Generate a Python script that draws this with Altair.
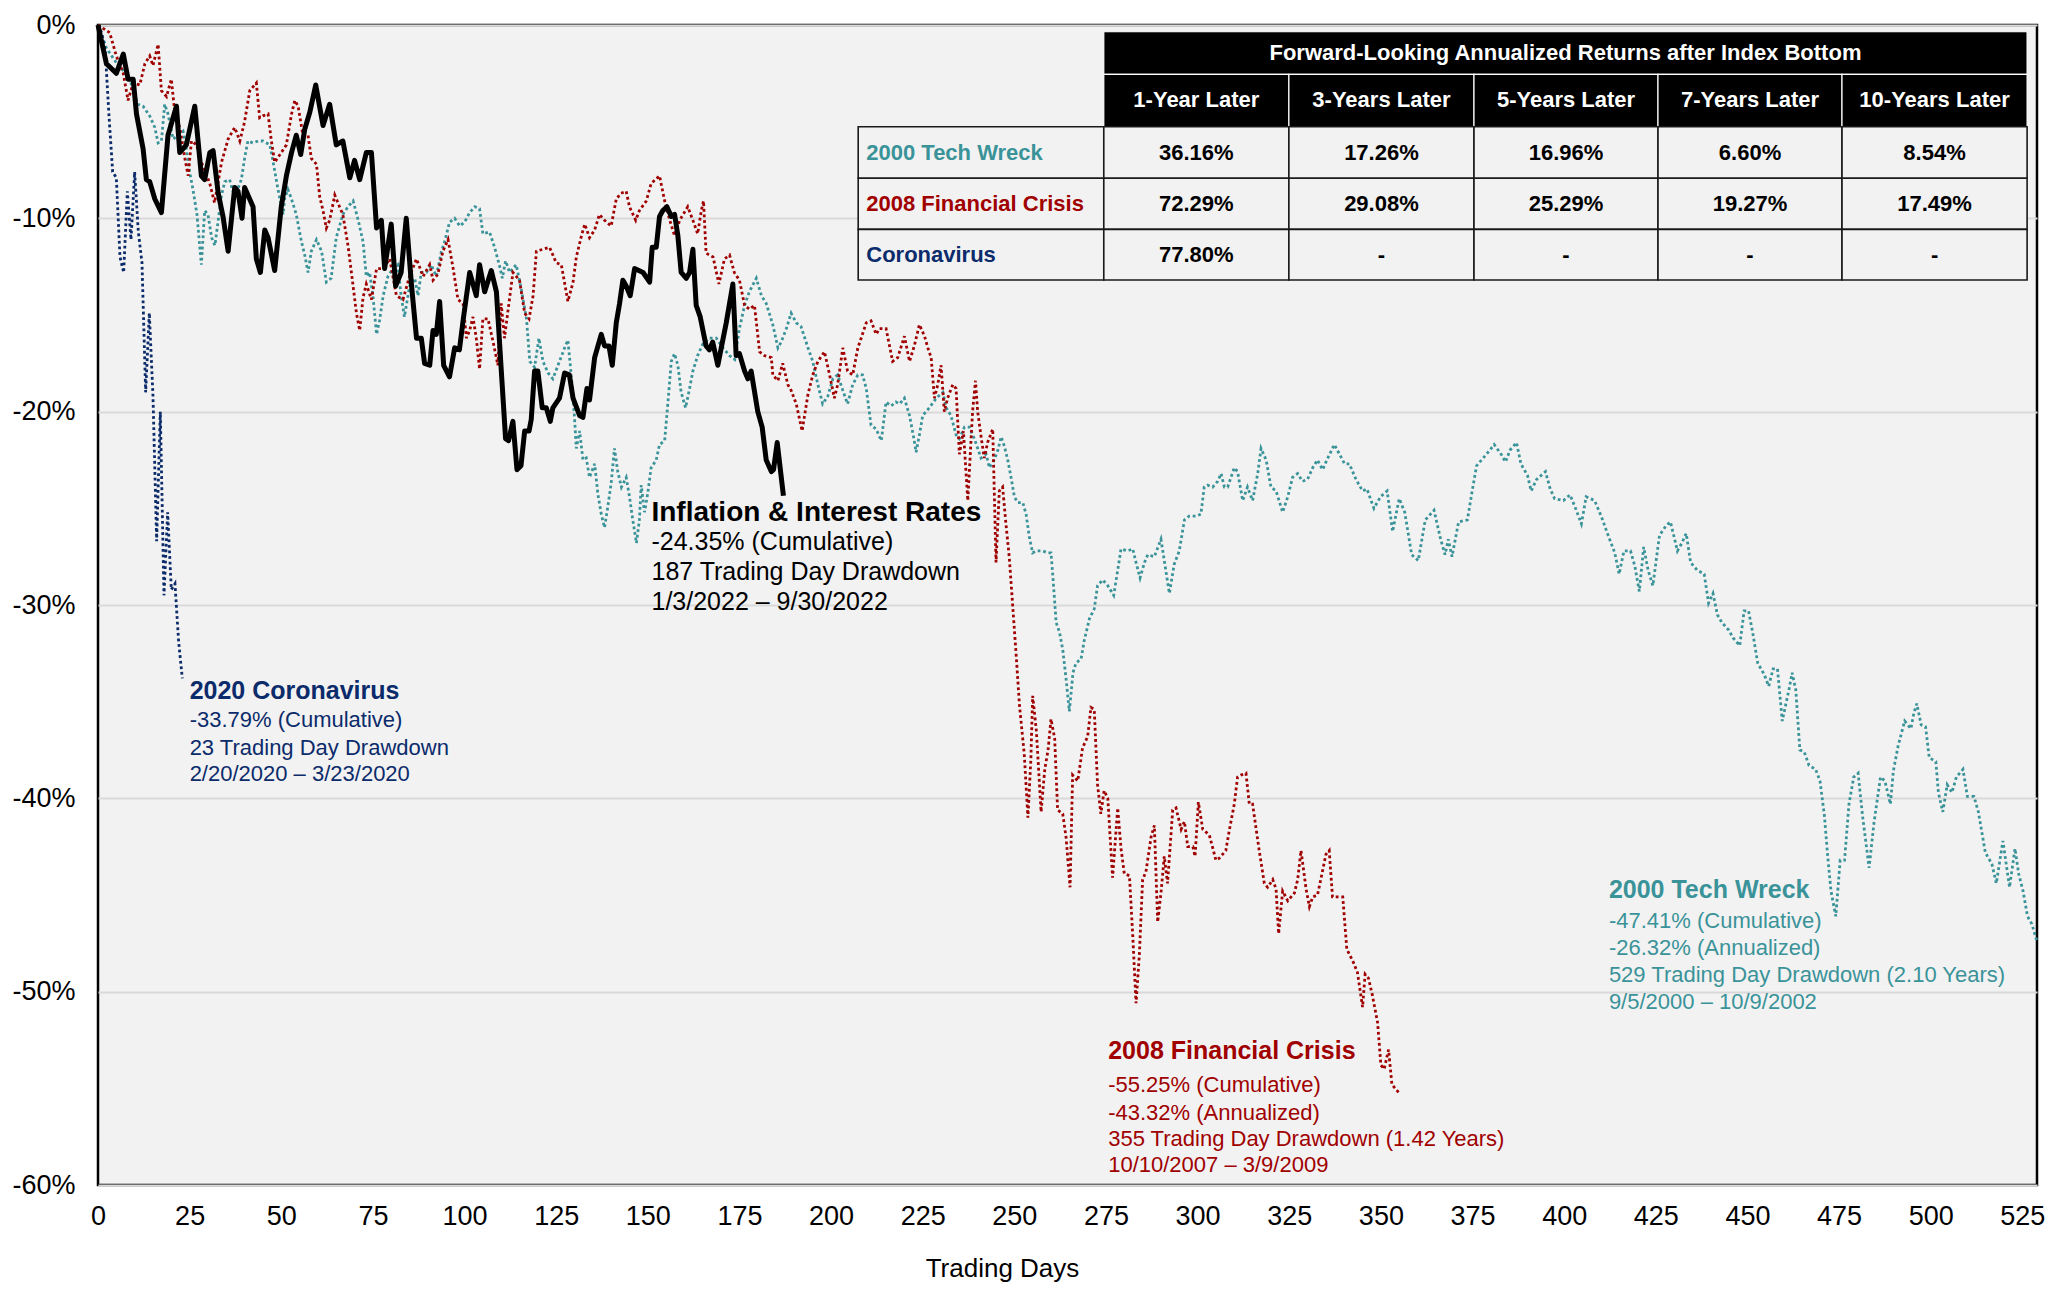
import altair as alt
import pandas as pd

FONT = "Liberation Sans"

# ---------------- series data (trading day, cumulative % from peak) ----------------
tech_days = [0, 2.3, 4.1, 5.9, 7.3, 8.7, 9.6, 10.9, 12.3, 14.1, 15.5, 16.4, 17.3, 18.2, 19.1, 20.5, 21.9, 23.2, 24.1, 25.0,
             25.9, 27.0, 28.2, 29.1, 30.0, 31.0, 31.9, 32.8, 33.7, 34.6, 35.9, 37.3, 39.1, 40.0, 40.9, 42.3, 43.7, 45.0, 46.9, 47.7,
             49.1, 50.5, 50.9, 51.8, 52.8, 54.1, 55.5, 56.4, 57.3, 58.2, 59.6, 61.0, 62.3, 63.6, 65.0, 66.8, 68.2, 69.6, 71.0, 72.3,
             73.2, 74.1, 75.0, 76.0, 76.8, 77.8, 79.1, 80.5, 81.8, 82.7, 83.6, 85.0, 86.4, 87.3, 88.2, 89.6, 90.9, 92.3, 93.7, 94.6,
             95.9, 97.3, 98.7, 100.0, 101.4, 102.8, 104.1, 105.0, 106.8, 108.2, 109.6, 110.3, 111.2, 112.3, 114.1, 115.5, 116.9, 117.8, 119.1, 120.3,
             121.4, 122.8, 124.1, 125.9, 127.3, 128.2, 129.1, 130.0, 130.5, 131.4, 132.3, 133.2, 134.1, 135.5, 136.4, 137.3, 138.2, 139.1, 140.0, 140.9,
             141.8, 142.8, 144.1, 145.0, 145.9, 146.9, 147.7, 148.2, 149.1, 150.0, 150.9, 152.3, 153.2, 154.6, 155.5, 156.4, 157.3, 158.2, 159.1, 160.3,
             161.4, 162.3, 163.6, 165.0, 166.8, 168.7, 170.5, 172.3, 173.7, 175.0, 176.4, 177.7, 179.6, 181.0, 182.3, 184.1, 185.5, 186.4, 187.8, 189.1,
             190.5, 191.8, 193.7, 195.0, 196.4, 197.7, 199.1, 200.5, 201.8, 203.2, 204.5, 205.9, 207.3, 208.6, 209.6, 210.9, 212.3, 213.7, 215.0, 216.4,
             217.7, 218.7, 220.0, 221.4, 222.7, 223.2, 224.1, 225.0, 226.8, 228.7, 230.5, 231.4, 232.7, 234.1, 235.0, 236.4, 237.7, 239.1, 240.9, 242.3,
             243.2, 244.5, 245.5, 246.4, 247.3, 248.2, 249.1, 250.0, 250.9, 252.3, 253.2, 254.1, 255.0, 255.9, 257.7, 259.1, 260.0, 260.5, 261.4, 262.3,
             263.2, 264.1, 265.0, 266.0, 266.8, 268.2, 269.1, 270.5, 271.8, 272.7, 274.1, 275.5, 277.1, 278.2, 279.1, 280.9, 282.3, 283.2, 284.3, 285.5,
             286.4, 288.2, 290.0, 290.9, 292.3, 293.6, 295.0, 296.4, 297.7, 299.6, 300.9, 301.8, 302.7, 304.1, 305.5, 306.4, 307.3, 308.2, 310.0, 310.9,
             312.3, 313.6, 315.0, 316.4, 317.3, 318.7, 320.0, 321.4, 323.2, 324.6, 325.9, 327.3, 328.6, 330.0, 331.4, 332.7, 334.1, 335.5, 337.3, 338.7,
             340.1, 341.4, 343.2, 345.0, 346.2, 348.1, 349.9, 351.7, 353.2, 355.0, 356.5, 358.4, 360.2, 362.1, 364.5, 366.3, 367.5, 368.4, 369.4, 371.2,
             373.6, 374.9, 376.1, 377.9, 379.7, 380.9, 382.8, 384.0, 385.2, 387.0, 388.2, 390.0, 391.0, 392.5, 394.9, 396.2, 397.4, 399.8, 401.6, 402.9,
             404.7, 406.0, 408.3, 410.1, 412.0, 413.8, 415.0, 416.3, 418.1, 419.3, 420.5, 421.7, 422.9, 424.2, 426.0, 427.8, 429.0, 430.9, 432.1, 433.3,
             434.5, 436.3, 438.2, 439.4, 440.6, 441.8, 443.0, 444.9, 446.1, 447.9, 449.1, 450.3, 451.5, 452.8, 454.6, 455.8, 457.0, 458.2, 459.5, 461.3,
             462.2, 463.2, 464.3, 465.5, 466.8, 468.6, 469.8, 471.0, 471.9, 472.8, 474.1, 475.3, 476.5, 477.7, 479.0, 480.2, 481.4, 483.2, 484.5, 486.3,
             487.5, 489.0, 489.8, 491.1, 492.9, 494.6, 495.4, 496.2, 497.4, 498.6, 499.6, 501.4, 502.1, 503.3, 504.5, 505.8, 507.0, 508.8, 510.0, 511.8,
             513.0, 514.9, 516.7, 517.9, 519.7, 521.5, 523.0, 524.0, 525.2, 526.4, 527.6, 529.0]
tech_vals = [0, -1.2, -1.7, -2.2, -2.4, -2.8, -3.4, -4.1, -4.2, -4.7, -5.3, -6.1, -6.0, -4.1, -4.6, -5.9, -5.7, -5.5, -6.4, -7.6,
             -8.5, -9.8, -12.4, -9.6, -9.8, -11.0, -11.4, -10.1, -8.8, -8.1, -8.0, -8.9, -8.0, -6.9, -6.0, -6.1, -6.0, -6.0, -6.2, -7.0,
             -8.5, -9.8, -9.0, -8.5, -9.0, -9.8, -11.2, -11.9, -12.8, -11.7, -11.1, -11.7, -13.3, -13.1, -11.0, -9.8, -9.4, -9.1, -10.1, -11.2,
             -13.0, -12.8, -14.0, -16.0, -15.3, -14.0, -13.0, -12.6, -12.4, -14.0, -15.1, -13.5, -13.1, -14.0, -12.8, -12.8, -12.4, -13.0, -11.7, -11.2,
             -10.2, -10.0, -10.4, -10.2, -9.7, -9.4, -9.5, -10.8, -10.7, -11.5, -12.5, -13.1, -12.2, -12.8, -12.4, -13.7, -15.2, -17.4, -17.7, -16.2,
             -17.4, -18.0, -18.3, -17.4, -16.7, -16.3, -18.1, -20.3, -21.9, -21.0, -22.5, -22.4, -23.4, -22.7, -24.3, -25.3, -26.0, -24.9, -23.7, -21.9,
             -23.1, -23.9, -23.4, -24.4, -25.6, -26.8, -25.6, -23.8, -25.2, -24.2, -22.9, -22.5, -21.7, -21.5, -19.5, -17.4, -17.0, -17.6, -19.0, -19.8,
             -18.8, -17.9, -17.1, -16.5, -16.2, -16.2, -16.7, -17.1, -17.3, -15.7, -14.5, -13.8, -13.1, -14.0, -14.4, -15.5, -16.7, -16.4, -15.7, -14.9,
             -15.4, -15.6, -16.7, -17.4, -18.6, -19.6, -19.2, -18.3, -18.1, -18.9, -19.6, -18.6, -18.1, -18.1, -18.8, -20.7, -20.9, -21.5, -19.5, -19.7,
             -19.5, -19.6, -19.3, -20.2, -21.5, -22.1, -21.2, -20.2, -19.8, -19.3, -19.0, -19.8, -20.2, -21.2, -21.4, -20.8, -20.8, -21.4, -22.4, -22.2,
             -22.9, -22.5, -22.0, -21.3, -21.8, -22.5, -23.4, -24.4, -24.7, -24.7, -25.3, -26.5, -27.3, -27.2, -27.2, -27.3, -27.3, -28.5, -30.9, -31.4,
             -32.3, -33.8, -35.5, -33.5, -33.0, -32.8, -31.8, -30.7, -30.2, -29.0, -28.7, -29.0, -29.5, -28.2, -27.1, -27.2, -27.1, -27.8, -28.6, -27.8,
             -27.4, -27.5, -26.6, -27.7, -29.4, -27.9, -27.2, -25.6, -25.4, -25.4, -25.3, -23.9, -23.8, -23.9, -23.6, -23.2, -23.9, -23.9, -22.9, -23.1,
             -24.6, -23.9, -24.6, -23.2, -21.9, -22.5, -23.9, -24.1, -25.2, -24.4, -23.4, -23.2, -23.6, -23.5, -22.9, -22.5, -23.0, -22.4, -21.7, -22.2,
             -22.7, -22.7, -23.5, -24.1, -24.0, -25.0, -24.4, -24.1, -26.2, -24.5, -25.2, -27.4, -27.7, -25.6, -25.1, -26.6, -27.4, -26.6, -27.5, -25.7,
             -25.6, -24.1, -22.8, -22.4, -22.0, -21.7, -22.2, -22.6, -22.0, -21.6, -22.7, -23.3, -24.1, -23.5, -23.1, -24.0, -24.5, -24.6, -24.3, -24.9,
             -25.8, -24.4, -24.6, -25.4, -26.4, -27.3, -28.4, -27.2, -27.2, -28.0, -29.3, -27.0, -28.2, -29.0, -26.4, -25.9, -25.7, -27.2, -26.8, -26.3,
             -27.8, -28.2, -28.4, -29.9, -29.4, -30.5, -30.9, -31.3, -31.7, -32.1, -30.3, -30.3, -31.5, -33.0, -33.6, -34.2, -33.3, -33.3, -36.0, -34.4,
             -33.5, -34.4, -37.5, -37.6, -38.3, -38.5, -39.1, -40.9, -43.0, -44.8, -46.1, -43.2, -43.2, -40.3, -38.9, -38.7, -40.9, -43.6, -41.3, -38.9,
             -39.1, -40.3, -38.6, -37.3, -36.0, -36.4, -35.6, -35.1, -36.2, -36.3, -37.9, -38.1, -39.7, -40.7, -39.3, -39.7, -38.9, -38.5, -39.9, -39.9,
             -40.7, -42.8, -43.4, -44.4, -42.2, -44.6, -42.6, -43.9, -44.8, -46.1, -46.5, -47.41]

gfc_days = [0, 3.2, 5.0, 6.9, 8.2, 9.6, 11.4, 12.8, 14.1, 15.0, 16.4, 17.3, 18.7, 20.0, 21.0, 22.3, 23.7, 24.6, 25.5, 26.9,
            28.2, 29.1, 30.5, 31.8, 33.7, 35.5, 37.3, 38.7, 40.0, 41.4, 43.2, 44.1, 45.0, 46.4, 47.3, 48.2, 50.0, 51.4, 52.8, 53.7,
            54.6, 55.9, 57.3, 58.2, 59.6, 60.5, 61.4, 62.3, 63.2, 64.6, 65.9, 66.8, 68.2, 69.6, 70.5, 71.4, 72.3, 73.2, 74.6, 76.0,
            77.8, 79.6, 81.4, 83.2, 85.0, 86.9, 88.7, 90.5, 91.4, 92.7, 94.1, 95.5, 96.9, 98.2, 99.6, 100.5, 101.4, 102.3, 103.2, 104.1,
            105.0, 106.4, 107.8, 109.1, 110.0, 110.9, 111.9, 113.2, 115.0, 116.4, 117.6, 118.7, 119.6, 121.4, 123.2, 125.0, 126.4, 128.2, 129.6, 130.5,
            131.9, 132.8, 134.1, 135.5, 136.8, 138.2, 140.0, 141.4, 142.7, 144.1, 145.0, 146.7, 147.7, 149.6, 150.9, 153.2, 154.6, 156.0, 157.3, 158.7,
            160.9, 162.3, 163.6, 164.6, 165.2, 165.9, 167.8, 169.4, 170.9, 172.3, 173.6, 175.0, 176.4, 177.7, 179.1, 180.5, 181.8, 183.7, 184.1, 185.5,
            186.8, 188.2, 189.1, 190.5, 192.1, 193.7, 195.0, 196.4, 198.2, 199.6, 200.9, 201.8, 203.2, 204.5, 205.9, 207.3, 208.2, 209.6, 210.9, 212.3,
            213.2, 215.0, 216.8, 218.2, 220.0, 221.4, 222.7, 224.1, 225.5, 226.4, 227.3, 228.2, 229.1, 230.0, 230.9, 231.8, 233.2, 234.1, 235.0, 236.1,
            236.8, 237.3, 238.2, 238.6, 239.4, 240.0, 241.0, 241.8, 242.7, 244.1, 245.0, 245.9, 246.8, 247.7, 248.6, 249.5, 250.5, 251.4, 252.7, 253.7,
            254.5, 255.0, 256.0, 257.3, 258.3, 259.2, 260.0, 261.0, 261.8, 263.2, 264.1, 265.2, 265.9, 267.3, 268.6, 270.0, 270.9, 271.8, 272.7, 273.6,
            274.5, 275.5, 276.8, 278.2, 279.1, 280.0, 281.4, 282.3, 283.2, 284.1, 285.0, 285.9, 287.3, 288.2, 289.1, 290.0, 290.9, 291.8, 293.2, 294.1,
            295.5, 296.4, 297.3, 298.7, 299.3, 300.2, 301.4, 303.2, 305.0, 305.9, 307.7, 308.6, 310.0, 310.9, 311.8, 313.2, 314.1, 315.0, 315.9, 316.8,
            318.2, 319.1, 320.5, 321.4, 322.1, 323.2, 324.6, 326.4, 327.3, 328.2, 329.6, 330.5, 331.4, 332.7, 333.6, 335.0, 335.9, 336.8, 337.7, 339.6,
            340.7, 342.3, 343.6, 345.0, 345.7, 346.6, 347.7, 349.1, 350.0, 350.9, 352.1, 353.0, 355.0]
gfc_vals = [0, -0.4, -1.6, -2.5, -3.9, -3.0, -3.1, -2.0, -1.6, -2.1, -1.0, -3.4, -3.7, -2.8, -4.6, -5.3, -6.9, -7.8, -6.0, -6.2,
            -7.1, -7.5, -8.2, -9.2, -7.1, -5.9, -5.3, -6.0, -5.0, -3.4, -3.0, -4.8, -4.7, -4.6, -6.0, -7.1, -6.6, -6.2, -4.6, -3.9,
            -4.2, -5.7, -5.7, -6.9, -7.2, -8.9, -9.6, -10.5, -10.1, -8.8, -9.4, -9.8, -11.4, -13.5, -14.9, -15.8, -14.1, -13.4, -14.2, -12.6,
            -12.6, -12.1, -14.0, -14.2, -13.0, -12.1, -13.0, -12.4, -13.2, -12.9, -11.7, -11.1, -12.6, -14.2, -14.4, -16.2, -15.8, -15.1, -16.2, -17.8,
            -15.2, -15.2, -16.4, -17.6, -14.4, -16.2, -14.7, -12.8, -13.2, -14.9, -15.2, -14.0, -11.7, -11.6, -11.5, -12.3, -12.4, -14.3, -13.3, -12.0,
            -10.9, -10.3, -11.0, -10.6, -9.8, -10.1, -10.4, -9.0, -8.7, -8.6, -9.4, -10.1, -9.6, -9.1, -8.2, -7.8, -9.1, -10.1, -10.9, -10.1,
            -9.4, -10.1, -10.8, -9.6, -9.1, -11.8, -12.0, -13.4, -12.1, -11.9, -12.8, -13.2, -14.5, -14.7, -14.5, -16.9, -17.1, -17.2, -18.1, -18.4,
            -17.5, -18.6, -18.9, -19.6, -21.0, -19.1, -18.1, -17.4, -16.9, -18.1, -19.3, -18.6, -16.7, -17.9, -18.1, -16.7, -16.2, -15.4, -15.3, -16.0,
            -15.7, -15.7, -17.4, -17.2, -16.1, -17.4, -16.6, -15.5, -16.1, -16.7, -17.2, -19.3, -18.6, -17.6, -20.0, -19.3, -18.6, -18.8, -22.2, -21.0,
            -23.1, -24.6, -21.4, -20.0, -18.4, -20.0, -21.4, -22.4, -21.6, -20.9, -27.8, -24.1, -23.9, -25.8, -27.5, -29.9, -32.6, -35.2, -37.7, -41.0,
            -38.0, -34.7, -36.5, -40.7, -38.5, -37.5, -35.9, -36.9, -40.6, -40.8, -42.0, -44.6, -38.8, -39.1, -37.4, -36.8, -35.3, -35.4, -39.3, -40.8,
            -39.6, -40.0, -44.1, -40.5, -42.6, -43.9, -44.0, -47.1, -50.6, -48.1, -44.2, -43.8, -42.0, -41.4, -46.4, -44.9, -43.0, -44.4, -40.6, -40.5,
            -41.6, -41.2, -42.5, -42.5, -43.0, -40.2, -41.6, -41.9, -43.2, -43.1, -42.7, -41.7, -40.3, -38.9, -38.8, -38.7, -40.3, -40.3, -41.5, -42.7,
            -44.4, -44.6, -44.2, -44.7, -47.0, -44.8, -45.3, -44.9, -44.2, -42.7, -44.7, -45.6, -45.1, -45.0, -44.2, -42.9, -42.7, -45.1, -45.1, -45.1,
            -47.8, -48.4, -49.0, -50.8, -49.1, -49.3, -50.2, -51.6, -53.8, -54.0, -53.0, -54.8, -55.25]

covid_days = list(range(0, 24))
covid_vals = [0, -0.4, -1.4, -4.7, -7.6, -7.9, -12.0, -12.8, -8.6, -11.1, -7.6, -10.7, -12.3, -19.0, -14.9, -19.2,
              -26.7, -20.0, -29.5, -25.2, -29.2, -28.9, -31.9, -33.79]

infl_days = [0, 2.3, 5.0, 6.9, 8.2, 9.6, 10.5, 12.3, 13.2, 14.1, 15.5, 17.3, 19.1, 21.4, 22.3, 24.1, 26.4, 28.2, 29.1, 30.5,
             31.4, 32.8, 34.1, 35.5, 37.3, 38.2, 39.3, 40.0, 42.3, 43.2, 44.3, 45.5, 46.4, 48.2, 50.0, 51.4, 52.8, 54.1, 55.3, 56.4,
             57.8, 59.4, 61.4, 63.2, 65.0, 66.8, 68.7, 70.0, 71.4, 73.2, 74.6, 76.0, 77.3, 78.2, 80.0, 81.2, 82.7, 84.1, 85.5, 86.9,
             88.2, 89.1, 90.5, 91.4, 92.3, 93.2, 94.3, 95.9, 97.3, 98.6, 99.6, 101.4, 103.2, 104.1, 105.5, 107.3, 108.7, 110.0, 111.2, 112.0,
             113.2, 114.3, 115.4, 116.4, 117.6, 118.2, 119.1, 120.0, 121.2, 122.3, 123.4, 124.1, 125.9, 127.3, 128.6, 129.6, 131.4, 132.3, 133.4, 134.1,
             135.5, 137.3, 138.2, 139.4, 140.3, 141.4, 142.3, 143.2, 144.1, 145.2, 146.4, 148.7, 150.5, 151.2, 152.3, 153.2, 154.1, 155.2, 156.4, 157.3,
             158.2, 159.1, 160.5, 161.4, 162.3, 163.2, 164.3, 165.9, 166.8, 167.7, 169.1, 171.4, 173.2, 174.1, 175.0, 176.4, 177.3, 178.2, 180.0, 181.2,
             182.3, 183.7, 184.3, 185.3, 187.0]
infl_vals = [0, -2.0, -2.5, -1.5, -2.8, -2.8, -4.6, -6.4, -8.0, -8.1, -9.0, -9.7, -5.7, -4.2, -6.6, -6.2, -4.2, -7.8, -8.0, -6.6,
             -6.5, -8.7, -9.9, -11.7, -8.4, -8.6, -10.0, -8.4, -9.4, -12.1, -12.8, -10.6, -11.0, -12.7, -9.4, -7.8, -6.6, -5.7, -6.7, -5.4,
             -4.5, -3.1, -5.2, -4.1, -6.2, -6.0, -7.9, -7.0, -8.0, -6.6, -6.6, -10.5, -10.1, -12.6, -10.3, -13.5, -12.8, -10.0, -13.4, -16.2,
             -16.2, -17.5, -17.6, -15.8, -16.0, -14.3, -17.6, -18.2, -16.7, -16.8, -15.3, -12.8, -14.0, -12.4, -13.8, -12.7, -13.8, -17.8, -21.4, -21.5,
             -20.5, -23.0, -22.8, -21.0, -21.0, -20.4, -17.9, -17.9, -19.8, -19.8, -20.5, -19.8, -19.3, -18.0, -18.1, -19.3, -20.2, -20.3, -18.8, -19.4,
             -17.2, -16.0, -16.6, -16.6, -17.6, -15.4, -14.4, -13.2, -13.5, -14.0, -12.6, -12.8, -13.3, -11.5, -11.5, -9.9, -9.6, -9.4, -9.9, -9.8,
             -10.9, -12.8, -13.1, -12.8, -11.6, -14.5, -15.1, -16.6, -16.8, -16.4, -17.6, -15.4, -13.4, -17.1, -17.0, -17.9, -18.3, -17.9, -20.0, -20.8,
             -22.5, -23.1, -23.0, -21.6, -24.35]

series_names = ["2000 Tech Wreck", "2008 Financial Crisis", "2020 Coronavirus"]
series_colors = ["#3A9399", "#A00000", "#0B2B6B"]

# ---------------- annotation and table text ----------------
covid_text = ["2020 Coronavirus", "-33.79% (Cumulative)", "23 Trading Day Drawdown", "2/20/2020 \u2013 3/23/2020"]
infl_text = ["Inflation & Interest Rates", "-24.35% (Cumulative)", "187 Trading Day Drawdown", "1/3/2022 \u2013 9/30/2022"]
gfc_text = ["2008 Financial Crisis", "-55.25% (Cumulative)", "-43.32% (Annualized)",
            "355 Trading Day Drawdown (1.42 Years)", "10/10/2007 \u2013 3/9/2009"]
tech_text = ["2000 Tech Wreck", "-47.41% (Cumulative)", "-26.32% (Annualized)",
             "529 Trading Day Drawdown (2.10 Years)", "9/5/2000 \u2013 10/9/2002"]

table_title = "Forward-Looking Annualized Returns after Index Bottom"
col_headers = ["1-Year Later", "3-Years Later", "5-Years Later", "7-Years Later", "10-Years Later"]
row_labels = ["2000 Tech Wreck", "2008 Financial Crisis", "Coronavirus"]
row_values = [["36.16%", "17.26%", "16.96%", "6.60%", "8.54%"],
              ["72.29%", "29.08%", "25.29%", "19.27%", "17.49%"],
              ["77.80%", "-", "-", "-", "-"]]

# ---------------- layout (placement only) ----------------
W, H = 1939, 1160
X_DOMAIN = [0, 529]
Y_DOMAIN = [-60, 0]
TBL_X = [207.4, 274.4, 324.9, 375.4, 425.6, 475.8, 526.3]   # column edges in trading days
TBL_Y = [-0.35, -2.55, -5.26, -7.93, -10.57, -13.19]         # row edges in percent
ROW_LABEL_X = 209.6

blocks = [
    # text lines, x, y of each line, color, title size, body size
    (covid_text, 25.0, [-34.45, -35.95, -37.38, -38.73], "#0B2B6B", 25, 22),
    (infl_text, 151.0, [-25.24, -26.74, -28.29, -29.85], "#000000", 28, 25),
    (gfc_text, 275.6, [-53.07, -54.83, -56.28, -57.62, -58.97], "#A00000", 25, 22),
    (tech_text, 412.2, [-44.74, -46.34, -47.74, -49.14, -50.56], "#3A9399", 25, 22),
]

xs = alt.Scale(domain=X_DOMAIN, nice=False, zero=False)
ys = alt.Scale(domain=Y_DOMAIN, nice=False, zero=False)

x_axis = alt.Axis(values=list(range(0, 526, 25)), title="Trading Days", grid=False, ticks=False, domain=False,
                  labelFontSize=27, labelFont=FONT, labelColor="black", labelPadding=18, labelFlush=False,
                  labelOverlap=False, titleFontSize=26, titleFont=FONT, titleFontWeight="normal", titleColor="black",
                  titleX=904, titleY=83, titleBaseline="middle", titleAlign="center")
y_axis = alt.Axis(values=list(range(0, -61, -10)), labelExpr="datum.value + '%'", title=None, grid=True,
                  gridColor="#d9d9d9", gridWidth=2, ticks=False, domain=False, labelFontSize=27, labelFont=FONT,
                  labelColor="black", labelPadding=23, labelFlush=False, labelOverlap=False)


def X(field="day"):
    return alt.X(f"{field}:Q", scale=xs, axis=x_axis)


def Y(field="pct"):
    return alt.Y(f"{field}:Q", scale=ys, axis=y_axis)


def frame(name, days, vals):
    return pd.DataFrame({"series": name, "day": days, "pct": vals, "idx": list(range(len(days)))})


dotted_df = pd.concat([frame(series_names[0], tech_days, tech_vals),
                       frame(series_names[1], gfc_days, gfc_vals),
                       frame(series_names[2], covid_days, covid_vals)], ignore_index=True)
infl_df = frame("Inflation & Interest Rates", infl_days, infl_vals)

dotted = alt.Chart(dotted_df).mark_line(strokeWidth=2.8, strokeDash=[2.8, 2.8], strokeCap="butt").encode(
    x=X(), y=Y(),
    color=alt.Color("series:N", scale=alt.Scale(domain=series_names, range=series_colors), legend=None),
    detail="series:N",
    order="idx:Q",
)

solid = alt.Chart(infl_df).mark_line(color="black", strokeWidth=5, strokeJoin="round").encode(
    x=X(), y=Y(), order="idx:Q",
)

# ---------------- annotation text ----------------
bold_rows, norm_rows = [], []
for lines, x0, ypos, col, tsize, bsize in blocks:
    for i, (t, yv) in enumerate(zip(lines, ypos)):
        row = {"text": t, "day": x0, "pct": yv, "color": col, "size": tsize if i == 0 else bsize}
        (bold_rows if i == 0 else norm_rows).append(row)

for r, lab in enumerate(row_labels):
    bold_rows.append({"text": lab, "day": ROW_LABEL_X, "pct": (TBL_Y[2 + r] + TBL_Y[3 + r]) / 2,
                      "color": series_colors[r], "size": 22})

center_rows = [{"text": table_title, "day": (TBL_X[1] + TBL_X[6]) / 2, "pct": (TBL_Y[0] + TBL_Y[1]) / 2,
                "color": "white", "size": 22}]
for c, h in enumerate(col_headers):
    center_rows.append({"text": h, "day": (TBL_X[c + 1] + TBL_X[c + 2]) / 2, "pct": (TBL_Y[1] + TBL_Y[2]) / 2,
                        "color": "white", "size": 22})
for r, vals in enumerate(row_values):
    for c, v in enumerate(vals):
        center_rows.append({"text": v, "day": (TBL_X[c + 1] + TBL_X[c + 2]) / 2,
                            "pct": (TBL_Y[2 + r] + TBL_Y[3 + r]) / 2, "color": "black", "size": 22})


def text_layer(rows, weight, align):
    return alt.Chart(pd.DataFrame(rows)).mark_text(font=FONT, fontWeight=weight, align=align,
                                                   baseline="middle").encode(
        x=X(), y=Y(),
        text="text:N",
        color=alt.Color("color:N", scale=None),
        size=alt.Size("size:Q", scale=None),
    )


# ---------------- table boxes ----------------
head_rects = [{"day": TBL_X[1], "day2": TBL_X[6], "pct": TBL_Y[0], "pct2": TBL_Y[1]}]
for c in range(5):
    head_rects.append({"day": TBL_X[c + 1], "day2": TBL_X[c + 2], "pct": TBL_Y[1], "pct2": TBL_Y[2]})
body_rects = []
for r in range(3):
    for c in range(6):
        body_rects.append({"day": TBL_X[c], "day2": TBL_X[c + 1], "pct": TBL_Y[2 + r], "pct2": TBL_Y[3 + r]})


def rect_layer(rows, fill, stroke, sw):
    return alt.Chart(pd.DataFrame(rows)).mark_rect(fill=fill, stroke=stroke, strokeWidth=sw).encode(
        x=X(), x2="day2:Q", y=Y(), y2="pct2:Q",
    )


chart = alt.layer(
    dotted,
    solid,
    rect_layer(head_rects, "black", "white", 1.2),
    rect_layer(body_rects, "#f2f2f2", "#1a1a1a", 1.6),
    text_layer(bold_rows, "bold", "left"),
    text_layer(norm_rows, "normal", "left"),
    text_layer(center_rows, "bold", "center"),
).properties(
    width=W, height=H,
    padding={"left": 90, "top": 17, "right": 8, "bottom": 100},
    autosize=alt.AutoSizeParams(type="none"),
).configure(
    background="white", font=FONT
).configure_view(
    fill="#f2f2f2", stroke="black", strokeWidth=2.5
)

chart.save("out.html", embed_options={"renderer": "svg", "actions": False})
